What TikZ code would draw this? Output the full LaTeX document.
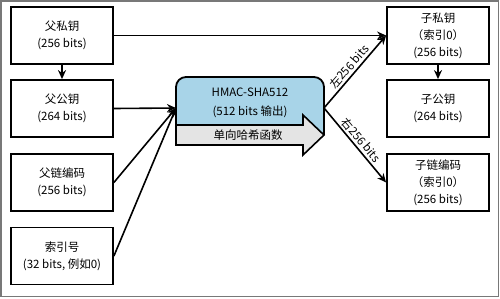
\documentclass[tikz,border=0pt]{standalone}
\usepackage{fontspec}
\setmainfont{Noto Sans CJK SC}
\usetikzlibrary{arrows.meta}
\definecolor{hblue}{RGB}{168,212,232}
\definecolor{hgray}{RGB}{228,228,228}
\definecolor{frame}{RGB}{120,120,120}
\begin{document}
\begin{tikzpicture}[x=1pt,y=-1pt,
  keybox/.style={draw, line width=1.8pt, minimum width=102pt, minimum height=57pt,
    align=center, inner sep=0pt, font=\fontsize{11.5}{17}\selectfont},
  txt/.style={align=center, inner sep=0pt, font=\fontsize{11.5}{19}\selectfont},
  link/.style={line width=1.6pt, -{Stealth[length=9pt,width=8pt]}}]
\useasboundingbox (0,0) rectangle (500,298);
\draw[frame, line width=1.5pt] (1,1) rectangle (498.5,296.5);
% left column
\node[keybox] (ppriv) at (62,35.5) {父私钥\\(256 bits)};
\node[keybox] (ppub) at (62,108.5) {父公钥\\(264 bits)};
\node[keybox] (pcode) at (62,182.5) {父链编码\\(256 bits)};
\node[keybox] (idx) at (62,256) {索引号\\(32 bits, 例如0)};
% right column
\node[keybox] (cpriv) at (438,35.5) {子私钥\\（索引0）\\(256 bits)};
\node[keybox] (cpub) at (438,108.5) {子公钥\\(264 bits)};
\node[keybox] (ccode) at (438,182.5) {子链编码\\（索引0）\\(256 bits)};
% HMAC block
\fill[hblue] [rounded corners=10pt] (176,125) -- (176,77) -- (324,77)
  [sharp corners] -- (324,135) -- (303,115) -- (303,125) -- cycle;
\filldraw[fill=hgray, line width=1.6pt] (176,125) -- (303,125) -- (303,115) -- (324,135)
  -- (303,155) -- (303,145) -- (176,145) -- cycle;
\draw[line width=1.8pt] (176,145) [rounded corners=10pt] -- (176,77) -- (324,77)
  [sharp corners] -- (324,135);
\node[txt] (hmac) at (250,102.5) {HMAC-SHA512\\(512 bits 输出)};
\node[txt] (hash) at (248,135) {单向哈希函数};
\coordinate (hin) at (176,108);
\coordinate (hout) at (324,108);
% connectors
\draw[link] (ppriv) -- (ppub);
\draw[link] (ppriv.east) -- (cpriv.west);
\draw[link] (ppub.east) -- (hin);
\draw[link] (pcode.east) -- (hin);
\draw[link] (idx.east) -- (hin);
\draw[link] (hout) -- node[above, sloped, txt, yshift=2pt] {左256 bits} (cpriv.west);
\draw[link] (hout) -- node[above, sloped, txt, yshift=2pt] {右256 bits} (ccode.west);
\draw[link] (cpriv) -- (cpub);
\end{tikzpicture}
\end{document}
